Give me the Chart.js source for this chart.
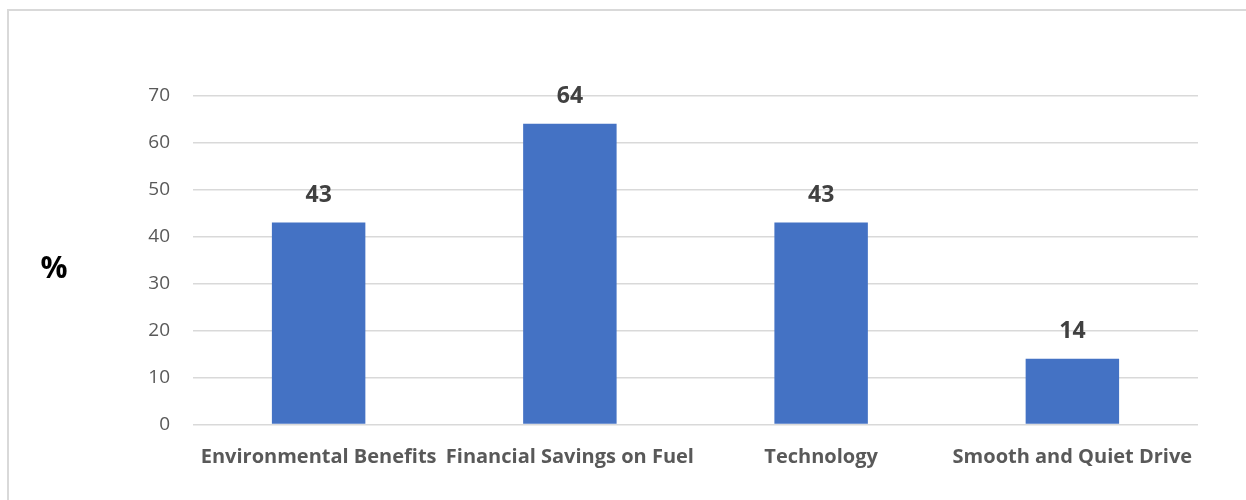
<!DOCTYPE html>
<html>
<head>
<meta charset="utf-8">
<script src="https://cdn.jsdelivr.net/npm/chart.js@4.4.1/dist/chart.umd.min.js"></script>
<style>
  html, body { margin: 0; padding: 0; background: #fff; overflow: hidden; }
  #wrap { position: relative; width: 1246px; height: 500px; }
  #frame {
    position: absolute; left: 7px; top: 9px; right: -10px; bottom: -10px;
    border: 2px solid #d9d9d9;
  }
  canvas { position: absolute; left: 0; top: 0; }
</style>
</head>
<body>
<div id="wrap">
  <div id="frame"></div>
  <canvas id="barChart" width="1246" height="500"></canvas>
</div>
<script>
// chart data
const categories = ["Environmental Benefits", "Financial Savings on Fuel", "Technology", "Smooth and Quiet Drive"];
const percentValues = [43, 64, 43, 14];
const yTicks = [0, 10, 20, 30, 40, 50, 60, 70];
const axisTitle = "%";

const fontFamily = "'Open Sans', 'Liberation Sans', sans-serif";

// draws the value above each bar
const valueLabels = {
  id: "valueLabels",
  afterDatasetsDraw(chart) {
    const ctx = chart.ctx;
    const meta = chart.getDatasetMeta(0);
    ctx.save();
    ctx.font = "bold 23px " + fontFamily;
    ctx.fillStyle = "#404040";
    ctx.textAlign = "center";
    ctx.textBaseline = "middle";
    meta.data.forEach((bar, i) => {
      ctx.fillText(String(percentValues[i]), bar.x, bar.y - 27);
    });
    ctx.restore();
  },
};

// "%" label to the left of the value axis (not rotated)
const sideTitle = {
  id: "sideTitle",
  afterDraw(chart) {
    const ctx = chart.ctx;
    const area = chart.chartArea;
    ctx.save();
    ctx.font = "bold 30px " + fontFamily;
    ctx.fillStyle = "#000";
    ctx.textAlign = "center";
    ctx.textBaseline = "middle";
    ctx.fillText(axisTitle, 54, (area.top + area.bottom) / 2 + 9);
    ctx.restore();
  },
};

new Chart(document.getElementById("barChart"), {
  type: "bar",
  data: {
    labels: categories,
    datasets: [{
      data: percentValues,
      backgroundColor: "#4472c4",
      borderWidth: 0,
      categoryPercentage: 1,
      barPercentage: 0.372,
    }],
  },
  options: {
    responsive: false,
    animation: false,
    layout: { padding: { left: 0, right: 48, top: 95.5, bottom: 0 } },
    plugins: {
      legend: { display: false },
      tooltip: { enabled: false },
    },
    scales: {
      x: {
        grid: { display: false, drawTicks: false },
        border: { display: false },
        ticks: {
          color: "#595959",
          font: { family: fontFamily, size: 20, weight: "bold" },
          padding: 21,
          maxRotation: 0,
          autoSkip: false,
        },
        afterFit(scale) { scale.height = 75.5; },
      },
      y: {
        min: 0,
        max: 70,
        afterBuildTicks(scale) { scale.ticks = yTicks.map((v) => ({ value: v })); },
        grid: { color: "#d9d9d9", lineWidth: 1.5, drawTicks: false },
        border: { display: false },
        ticks: {
          color: "#595959",
          font: { family: fontFamily, size: 19 },
          padding: 23,
        },
        afterFit(scale) { scale.width = 193; },
      },
    },
  },
  plugins: [valueLabels, sideTitle],
});
</script>
</body>
</html>
